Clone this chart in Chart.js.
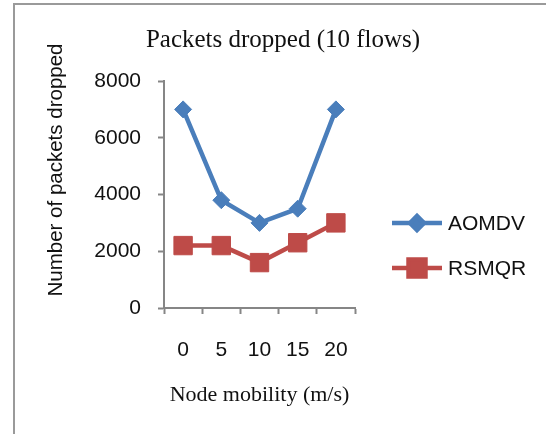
<!DOCTYPE html>
<html>
<head>
<meta charset="utf-8">
<script src="https://cdn.jsdelivr.net/npm/chart.js@4.4.1/dist/chart.umd.min.js"></script>
<style>
  html, body { margin: 0; padding: 0; background: #ffffff; }
  #wrap { width: 546px; height: 434px; position: relative; }
</style>
</head>
<body>
<div id="wrap"><canvas id="c" width="546" height="434"></canvas></div>
<script>
// Packets dropped vs node mobility, 10 flows
const mobility = ['0', '5', '10', '15', '20'];
const aomdv = [7000, 3800, 3000, 3500, 7000];
const rsmqr = [2200, 2200, 1600, 2300, 3000];
const yTicks = [0, 2000, 4000, 6000, 8000];
const seriesNames = ['AOMDV', 'RSMQR'];
const chartTitle = 'Packets dropped (10 flows)';
const xTitle = 'Node mobility (m/s)';
const yTitle = 'Number of packets dropped';

const BLUE = '#4a7ebb';
const RED = '#be4b48';
const AXIS = '#868686';
const INK = '#111111';
const SANS = '"Liberation Sans", Arial, sans-serif';
const SERIF = '"Liberation Serif", "Times New Roman", serif';

// Frame, chart title, rotated y-axis title and the line legend
const decor = {
  id: 'decor',
  beforeDraw(chart) {
    const ctx = chart.ctx;
    ctx.save();
    ctx.strokeStyle = '#9a9a9a';
    ctx.lineWidth = 2;
    ctx.beginPath();
    ctx.moveTo(14, 434);
    ctx.lineTo(14, 4);
    ctx.lineTo(546, 4);
    ctx.stroke();
    ctx.restore();
  },
  afterDraw(chart) {
    const ctx = chart.ctx;
    ctx.save();
    ctx.fillStyle = INK;
    ctx.textAlign = 'center';
    ctx.textBaseline = 'middle';
    ctx.font = '25px ' + SERIF;
    ctx.fillText(chartTitle, 283, 40);

    ctx.save();
    ctx.translate(56, 170);
    ctx.rotate(-Math.PI / 2);
    ctx.font = '20.5px ' + SANS;
    ctx.fillText(yTitle, 0, 0);
    ctx.restore();

    const rows = [223, 268];
    chart.data.datasets.forEach((ds, i) => {
      const y = rows[i];
      ctx.strokeStyle = ds.borderColor;
      ctx.lineWidth = ds.borderWidth;
      ctx.beginPath();
      ctx.moveTo(392, y);
      ctx.lineTo(442, y);
      ctx.stroke();
      ctx.fillStyle = ds.pointBackgroundColor;
      ctx.strokeStyle = ds.pointBorderColor;
      Chart.helpers.drawPoint(ctx, {
        pointStyle: ds.pointStyle,
        radius: ds.legendRadius,
        rotation: 0,
        borderWidth: 1
      }, 417, y);
      ctx.fillStyle = INK;
      ctx.textAlign = 'left';
      ctx.font = '21px ' + SANS;
      ctx.fillText(ds.label, 448, y + 1);
    });
    ctx.restore();
  }
};

new Chart(document.getElementById('c'), {
  type: 'line',
  data: {
    labels: mobility,
    datasets: [
      {
        label: seriesNames[0],
        data: aomdv,
        borderColor: BLUE,
        backgroundColor: BLUE,
        borderWidth: 4.5,
        pointStyle: 'rectRot',
        pointRadius: 8.5,
        legendRadius: 7,
        pointBackgroundColor: BLUE,
        pointBorderColor: BLUE,
        pointBorderWidth: 1,
        tension: 0
      },
      {
        label: seriesNames[1],
        data: rsmqr,
        borderColor: RED,
        backgroundColor: RED,
        borderWidth: 4.5,
        pointStyle: 'rect',
        pointRadius: 13,
        legendRadius: 12,
        pointBackgroundColor: RED,
        pointBorderColor: RED,
        pointBorderWidth: 1,
        tension: 0
      }
    ]
  },
  options: {
    responsive: false,
    animation: false,
    layout: { padding: { left: 0, right: 191, top: 81, bottom: 0 } },
    plugins: {
      legend: { display: false },
      title: { display: false },
      tooltip: { enabled: false }
    },
    scales: {
      x: {
        type: 'category',
        offset: true,
        grid: {
          offset: true,
          drawOnChartArea: false,
          drawTicks: true,
          tickLength: 6,
          tickColor: AXIS,
          tickWidth: 2
        },
        border: { display: true, color: AXIS, width: 2 },
        ticks: {
          padding: 24,
          color: INK,
          font: { family: SANS, size: 21 },
          maxRotation: 0
        },
        title: {
          display: true,
          text: xTitle,
          color: INK,
          font: { family: SERIF, size: 22 },
          padding: { top: 0, bottom: 26 }
        },
        afterFit(scale) { scale.height = 434 - 308; }
      },
      y: {
        min: yTicks[0],
        max: yTicks[yTicks.length - 1],
        afterBuildTicks(scale) { scale.ticks = yTicks.map(v => ({ value: v })); },
        grid: {
          drawOnChartArea: false,
          drawTicks: true,
          tickLength: 6,
          tickColor: AXIS,
          tickWidth: 2
        },
        border: { display: true, color: AXIS, width: 2 },
        ticks: {
          padding: 17,
          color: INK,
          font: { family: SANS, size: 21 },
          callback: v => String(v)
        },
        afterFit(scale) { scale.width = 164; }
      }
    }
  },
  plugins: [decor]
});
</script>
</body>
</html>
